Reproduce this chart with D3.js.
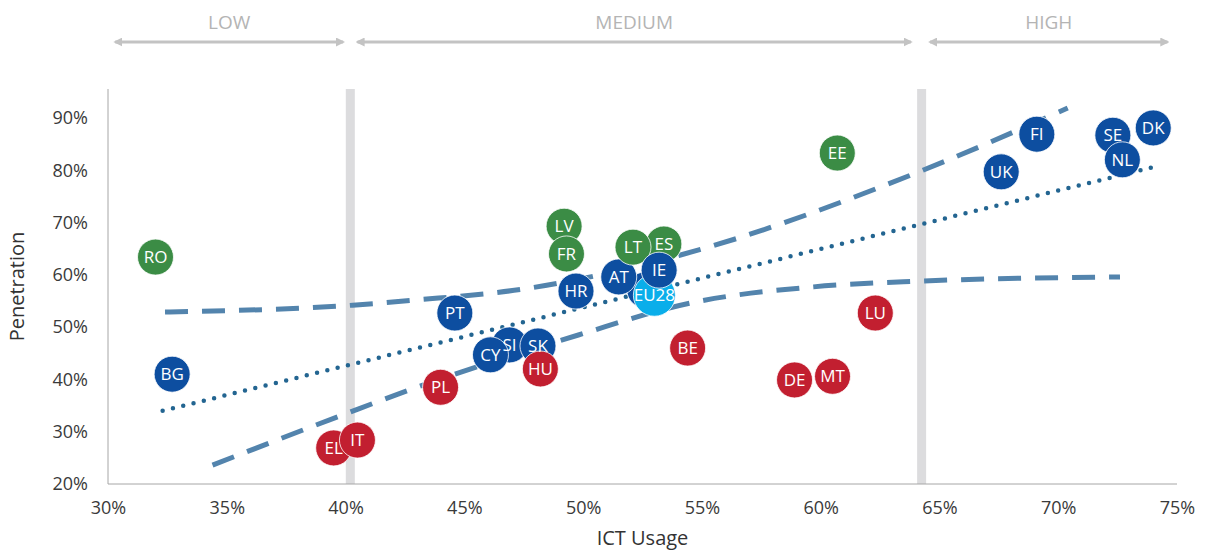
<!DOCTYPE html>
<html>
<head>
<meta charset="utf-8">
<script src="https://cdn.jsdelivr.net/npm/d3@7"></script>
<style>
  body { margin: 0; background: #fff; }
  text { font-family: "Open Sans", "Noto Sans", sans-serif; }
</style>
</head>
<body>
<div id="chart"></div>
<script>
// country scores: ICT usage (x) and penetration (y), in %
var countries = ["RO","BG","EL","IT","PL","PT","SI","CY","SK","HU","HR","LV","FR","CZ","EU28","AT","ES","LT","IE","BE","DE","MT","LU","EE","UK","FI","SE","NL","DK"];
var ictUsage  = [32.0, 32.7, 39.5, 40.5, 44.0, 44.6, 46.9, 46.1, 48.1, 48.2, 49.7, 49.2, 49.3, 52.6, 53.0, 51.5, 53.4, 52.1, 53.2, 54.4, 58.9, 60.5, 62.3, 60.7, 67.6, 69.1, 72.3, 72.7, 74.0];
var penetration = [63.4, 41.0, 26.9, 28.4, 38.5, 52.7, 46.6, 44.7, 46.4, 42.0, 56.9, 69.3, 64.0, 57.1, 56.1, 59.6, 65.9, 65.3, 60.9, 46.0, 39.9, 40.6, 52.7, 83.3, 79.7, 86.9, 86.7, 82.0, 88.1];
var group = ["green","blue","red","red","red","blue","blue","blue","blue","red","blue","green","green","blue","eu","blue","green","green","blue","red","red","red","red","green","blue","blue","blue","blue","blue"];
// CZ sits hidden behind EU28, its label is not shown
var hiddenLabels = ["CZ"];

// trend lines (x %, y %)
var trendLinear = [[32.3, 34.0], [74.0, 80.6]];
var trendLow = [[34.4, 23.6], [40.1, 33.6], [42.7, 38.0], [49.8, 48.5], [54.5, 54.6], [59.7, 57.7], [64.2, 58.8], [72.6, 59.6]];
var trendHigh = [[32.4, 52.9], [40.3, 54.2], [43.0, 55.2], [47.5, 57.3], [54.1, 63.8], [64.3, 80.0], [70.4, 91.9]];

// usage levels shown above the chart
var levels = ["LOW", "MEDIUM", "HIGH"];
var levelFrom = [30.3, 40.5, 64.6];
var levelTo = [39.9, 63.8, 74.6];
var thresholds = [40.2, 64.25];

var xTicks = [30, 35, 40, 45, 50, 55, 60, 65, 70, 75];
var yTicks = [20, 30, 40, 50, 60, 70, 80, 90];

var colors = {blue: "#0d4ea0", green: "#3b8c45", red: "#c21f30", eu: "#0aaeea"};

var width = 1208, height = 553;

var svg = d3.select("#chart").append("svg")
    .attr("width", width)
    .attr("height", height);

var x = d3.scaleLinear().domain([30, 75]).range([108, 1177]);
var y = d3.scaleLinear().domain([20, 90]).range([484, 118]);
var plotTop = 89;

// grey threshold bands
svg.selectAll(".band")
  .data(thresholds)
  .enter().append("rect")
    .attr("class", "band")
    .attr("x", function(d) { return x(d) - 4.5; })
    .attr("y", plotTop)
    .attr("width", 9)
    .attr("height", y(20) - plotTop)
    .style("fill", "#dcdcde");

// axes
var xAxis = svg.append("g")
    .attr("transform", "translate(0," + y(20) + ")")
    .call(d3.axisBottom(x).tickValues(xTicks).tickSize(0).tickPadding(17)
      .tickFormat(function(d) { return d + "%"; }));
xAxis.select(".domain").attr("d", "M" + x(30) + ",0H" + x(75)).style("stroke", "#a6a6a6");

var yAxis = svg.append("g")
    .attr("transform", "translate(" + x(30) + ",0)")
    .call(d3.axisLeft(y).tickValues(yTicks).tickSize(0).tickPadding(20)
      .tickFormat(function(d) { return d + "%"; }));
yAxis.select(".domain").attr("d", "M0," + plotTop + "V" + y(20)).style("stroke", "#a6a6a6");

svg.selectAll(".tick text")
    .style("font-size", "18px")
    .style("fill", "#3a3a3a")
    .style("font-family", "'Open Sans', sans-serif");

svg.append("text")
    .attr("x", (x(30) + x(75)) / 2)
    .attr("y", 545)
    .attr("text-anchor", "middle")
    .style("font-size", "20px")
    .style("fill", "#333")
    .text("ICT Usage");

svg.append("text")
    .attr("transform", "translate(24," + (plotTop + y(20)) / 2 + ") rotate(-90)")
    .attr("text-anchor", "middle")
    .style("font-size", "20px")
    .style("fill", "#333")
    .text("Penetration");

// level arrows at the top
var defs = svg.append("defs");
defs.append("marker")
    .attr("id", "arrow")
    .attr("viewBox", "0 0 10 10")
    .attr("refX", 8).attr("refY", 5)
    .attr("markerWidth", 3).attr("markerHeight", 3)
    .attr("orient", "auto-start-reverse")
  .append("path")
    .attr("d", "M0,0L10,5L0,10z")
    .style("fill", "#c3c3c3");

var lv = svg.selectAll(".level")
  .data(levels)
  .enter().append("g")
    .attr("class", "level");
lv.append("line")
    .attr("x1", function(d, i) { return x(levelFrom[i]); })
    .attr("x2", function(d, i) { return x(levelTo[i]); })
    .attr("y1", 42).attr("y2", 42)
    .style("stroke", "#c3c3c3")
    .style("stroke-width", 3)
    .attr("marker-start", "url(#arrow)")
    .attr("marker-end", "url(#arrow)");
lv.append("text")
    .attr("x", function(d, i) { return (x(levelFrom[i]) + x(levelTo[i])) / 2; })
    .attr("y", 29)
    .attr("text-anchor", "middle")
    .style("font-size", "19px")
    .style("fill", "#b4b4b4")
    .text(function(d) { return d; });

// trend lines
var line = d3.line()
    .x(function(d) { return x(d[0]); })
    .y(function(d) { return y(d[1]); })
    .curve(d3.curveMonotoneX);

[trendLow, trendHigh].forEach(function(t) {
  svg.append("path")
    .datum(t)
    .attr("d", line)
    .style("fill", "none")
    .style("stroke", "#5384ad")
    .style("stroke-width", 5)
    .style("stroke-dasharray", "23,14");
});

svg.append("path")
    .datum(trendLinear)
    .attr("d", line)
    .style("fill", "none")
    .style("stroke", "#236591")
    .style("stroke-width", 4.5)
    .style("stroke-linecap", "round")
    .style("stroke-dasharray", "0,10.6");

// bubbles first, labels on top of all of them
svg.selectAll(".bubble")
  .data(countries)
  .enter().append("circle")
    .attr("class", "bubble")
    .attr("cx", function(d, i) { return x(ictUsage[i]); })
    .attr("cy", function(d, i) { return y(penetration[i]); })
    .attr("r", function(d) { return d == "EU28" ? 21 : 18; })
    .style("fill", function(d, i) { return colors[group[i]]; })
    .style("stroke", "#fff")
    .style("stroke-width", 0.8);

svg.selectAll(".label")
  .data(countries)
  .enter().append("text")
    .attr("class", "label")
    .filter(function(d) { return hiddenLabels.indexOf(d) < 0; })
    .attr("x", function(d) { return x(ictUsage[countries.indexOf(d)]); })
    .attr("y", function(d) { return y(penetration[countries.indexOf(d)]); })
    .attr("dy", "0.36em")
    .attr("text-anchor", "middle")
    .style("font-size", "17px")
    .style("fill", "#fff")
    .text(function(d) { return d; });
</script>
</body>
</html>
